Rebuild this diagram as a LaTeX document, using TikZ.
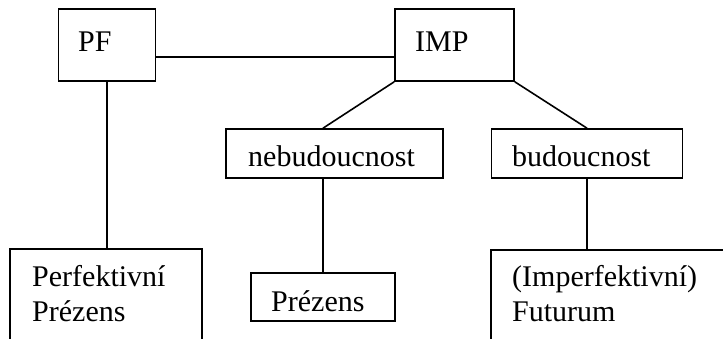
\documentclass[tikz,border=0pt]{standalone}
\usepackage{fontspec}
\setmainfont{Liberation Serif}
\begin{document}
\begin{tikzpicture}[x=1pt,y=-1pt,
  box/.style={draw,line width=1.6pt,inner sep=0pt,minimum width=#1},
  lbl/.style={inner sep=0pt,anchor=base west,font=\fontsize{30}{35}\selectfont,align=left},
  con/.style={line width=1.6pt}]
\useasboundingbox[fill=white] (0,0) rectangle (723,339);
\clip (0,0) rectangle (723,339);
% boxes
\node[box=97, minimum height=72] (PF) at (107,45) {};
\node[box=119, minimum height=72] (IMP) at (454.5,45) {};
\node[box=217, minimum height=49] (neb) at (334.5,153.5) {};
\node[box=191, minimum height=49] (bud) at (587,153.5) {};
\node[box=192, minimum height=120] (perf) at (106,309) {};
\node[box=144, minimum height=48] (prez) at (323,297) {};
\node[box=260, minimum height=120] (fut) at (621,310) {};
% labels
\node[lbl] (tPF) at (78,52) {PF};
\node[lbl] (tIMP) at (415,52) {IMP};
\node[lbl] (tneb) at (248,167) {nebudoucnost};
\node[lbl] (tbud) at (512,167) {budoucnost};
\node[lbl] (tperf) at (32,321) {Perfektivní\\Prézens};
\node[lbl] (tprez) at (271,311) {Prézens};
\node[lbl] (tfut) at (512,321) {(Imperfektivní)\\Futurum};
% connectors
\draw[con] ([yshift=-12pt]PF.east) -- ([yshift=-12pt]IMP.west);
\draw[con] (PF.south) -- (PF.south |- perf.north);
\draw[con] (IMP.south west) -- (prez.north |- neb.north);
\draw[con] (prez.north |- neb.south) -- (prez.north);
\draw[con] (IMP.south east) -- (bud.north);
\draw[con] (bud.south) -- (bud.south |- fut.north);
\end{tikzpicture}
\end{document}
